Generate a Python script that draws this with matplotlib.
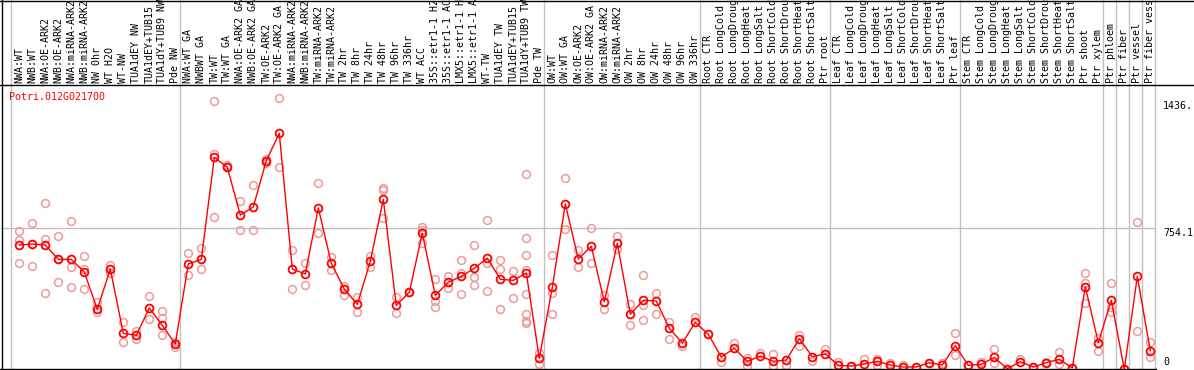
import matplotlib
matplotlib.use("Agg")
import matplotlib.pyplot as plt
from matplotlib.lines import Line2D
from matplotlib.transforms import blended_transform_factory

categories = [
    "NWA:WT", "NWB:WT", "NWA:OE-ARK2", "NWB:OE-ARK2", "NWA:miRNA-ARK2", "NWB:miRNA-ARK2",
    "NW 0hr", "WT H2O", "WT-NW", "TUA1dEY NW", "TUA1dEY+TUB15", "TUA1dY+TUB9 NW", "Pde NW",
    "NWA:WT GA", "NWBWT GA", "TW:WT", "TW:WT GA", "NWA:OE-ARK2 GA", "NWB:OE-ARK2 GA",
    "TW:OE-ARK2", "TW:OE-ARK2 GA", "NWA:miRNA-ARK2", "NWB:miRNA-ARK2", "TW:miRNA-ARK2",
    "TW:miRNA-ARK2", "TW 2hr", "TW 8hr", "TW 24hr", "TW 48hr", "TW 96hr", "TW 336hr",
    "WT ACC", "35S::etr1-1 H2", "35S::etr1-1 AC", "LMX5::etr1-1 H", "LMX5::etr1-1 A",
    "WT-TW", "TUA1dEY TW", "TUA1dEY+TUB15", "TUA1dY+TUB9 TW", "Pde TW",
    "OW:WT", "OW:WT GA", "OW:OE-ARK2", "OW:OE-ARK2 GA", "OW:miRNA-ARK2", "OW:miRNA-ARK2",
    "OW 2hr", "OW 8hr", "OW 24hr", "OW 48hr", "OW 96hr", "OW 336hr",
    "Root CTR", "Root LongCold", "Root LongDroug", "Root LongHeat", "Root LongSalt",
    "Root ShortCold", "Root ShortDrou", "Root ShortHeat", "Root ShortSalt", "Ptr root",
    "Leaf CTR", "Leaf LongCold", "Leaf LongDroug", "Leaf LongHeat", "Leaf LongSalt",
    "Leaf ShortCold", "Leaf ShortDrou", "Leaf ShortHeat", "Leaf ShortSalt", "Ptr leaf",
    "Stem CTR", "Stem LongCold", "Stem LongDroug", "Stem LongHeat", "Stem LongSalt",
    "Stem ShortCold", "Stem ShortDrou", "Stem ShortHeat", "Stem ShortSalt", "Ptr shoot",
    "Ptr xylem", "Ptr phloem", "Ptr fiber", "Ptr vessel", "Ptr fiber vess",
]

means = [
    666, 671, 666, 590, 590, 523, 326, 539, 199, 189, 333, 241, 143,
    566, 590, 1129, 1077, 824, 867, 1112, 1256, 539, 513, 862, 569, 433, 352, 580,
    907, 347, 416, 728, 400, 469, 500, 543, 596, 485, 479, 518, 67,
    442, 883, 592, 659, 365, 675, 300, 374, 370, 226, 148, 257,
    194, 74, 120, 51, 79, 51, 58, 171, 76, 90,
    30, 26, 37, 51, 32, 21, 21, 44, 32, 134,
    30, 35, 72, 12, 49, 21, 44, 62, 16, 446,
    150, 374, 9, 500, 107,
]

replicates = [
    [738, 692, 569], [781, 555, 671], [886, 698, 414], [713, 470, 590], [791, 548, 442],
    [606, 537, 432], [366, 313, 326], [559, 520], [257, 152], [213, 171], [395, 273],
    [319, 278, 189], [155, 125], [624, 506], [650, 537], [1427, 1147, 814], [1090, 1077],
    [899, 745], [981, 745], [1122, 1100], [1443, 1077], [640, 432], [569, 453], [992, 728],
    [601, 534], [449, 402], [389, 310], [609, 551], [969, 957, 807], [389, 305], [416, 420],
    [759, 747, 678], [485, 372, 340], [502, 439], [585, 516, 405], [666, 498, 453],
    [798, 569, 421], [585, 537, 326], [527, 384], [1040, 701, 611, 532, 409, 301, 264, 255],
    [97, 37], [611, 411, 300], [1018, 749], [640, 551], [754, 569], [402, 326], [713, 643],
    [354, 241], [506, 349, 270], [414, 300], [257, 169], [132], [284], [194], [50], [146],
    [70, 28], [93], [88, 28], [32], [190, 132], [55], [118], [48], [26], [66], [66, 32],
    [44], [32], [21], [44], [44], [199, 86], [30], [45], [115, 41], [12], [66], [21], [49],
    [102, 37], [16], [516, 467, 358], [173, 107], [463, 340, 310], [9], [786, 210], [153, 76],
]

group_starts = [0, 13, 41, 53, 63, 73, 84, 85, 86, 87, 88]
gene = "Potri.012G021700"
ytick_vals = [1436.0, 754.1]
ytick_labels = ["1436.", "754.1"]

W, H = 1194, 370
fig = plt.figure(figsize=(W / 100, H / 100), dpi=100)
ax_l, ax_r, ax_t, ax_b = 1, 1156, 85, 369
ax = fig.add_axes([ax_l / W, 1 - ax_b / H, (ax_r - ax_l) / W, (ax_b - ax_t) / H])
ax.set_facecolor("white")
for s in ax.spines.values():
    s.set_visible(False)
ax.set_xticks([])
ax.set_yticks([])

# pixel mapping: x = 19.3 + 13*i ; value v -> y_px = 371 - 0.1892*v
px_per_unit = 0.1892
ax.set_xlim((ax_l - 19.3) / 13, (ax_r - 19.3) / 13)
ax.set_ylim((371 - ax_b) / px_per_unit, (371 - ax_t) / px_per_unit)

mono = "DejaVu Sans Mono"
fs = 7.2
grey = "#c0c0c0"

for g in group_starts:
    ax.axvline(g - 0.66, ymin=0, ymax=(ax_b - 0) / (ax_b - ax_t), color=grey, lw=1.0,
               clip_on=False, zorder=1)
ax.axhline(ytick_vals[1], color=grey, lw=1.0, zorder=1)

xs = list(range(len(categories)))
for i, vals in enumerate(replicates):
    ax.plot([i] * len(vals), vals, linestyle="none", marker="o", markersize=5.6,
            markerfacecolor="none", markeredgecolor="#ef9a9a", markeredgewidth=1.1, zorder=2)
ax.plot(xs, means, color="#ff0000", lw=1.0, marker="o", markersize=5.6,
        markerfacecolor="none", markeredgecolor="#ff0000", markeredgewidth=1.3, zorder=3)

# category labels
tr_lab = blended_transform_factory(ax.transData, ax.transAxes)
y_lab = (ax_b - 83) / (ax_b - ax_t)
for i, c in enumerate(categories):
    ax.text(i, y_lab, c, rotation=90, ha="center", va="bottom", family=mono, fontsize=fs,
            transform=tr_lab, clip_on=False, color="black")

# gene label
ax.text((9.3 - ax_l) / (ax_r - ax_l), (ax_b - 97) / (ax_b - ax_t), gene, color="#ff0000",
        family=mono, fontsize=fs, ha="left", va="center", transform=ax.transAxes)

# right value labels
tr_y = blended_transform_factory(ax.transAxes, ax.transData)
xl = (1163 - ax_l) / (ax_r - ax_l)
ax.text(xl, 1436.0 - 2 / px_per_unit, ytick_labels[0], family=mono, fontsize=fs, ha="left",
        va="top", transform=tr_y, clip_on=False)
ax.text(xl, ytick_vals[1], ytick_labels[1], family=mono, fontsize=fs, ha="left", va="top",
        transform=tr_y, clip_on=False)
ax.text(xl, (ax_b - 362) / (ax_b - ax_t), "0", family=mono, fontsize=fs, ha="left",
        va="center", transform=ax.transAxes, clip_on=False)

# frame lines in pixel coords
def hline(y, x0, x1):
    fig.add_artist(Line2D([x0 / W, x1 / W], [1 - y / H, 1 - y / H], color="black", lw=1.0,
                          transform=fig.transFigure))

def vline(x, y0, y1):
    fig.add_artist(Line2D([x / W, x / W], [1 - y0 / H, 1 - y1 / H], color="black", lw=1.0,
                          transform=fig.transFigure))

hline(0.5, 0, W)
hline(85, 0, W)
hline(368.5, 0, ax_r)
vline(1.5, 0, ax_b)

fig.savefig("out.png", dpi=100, facecolor="white")
